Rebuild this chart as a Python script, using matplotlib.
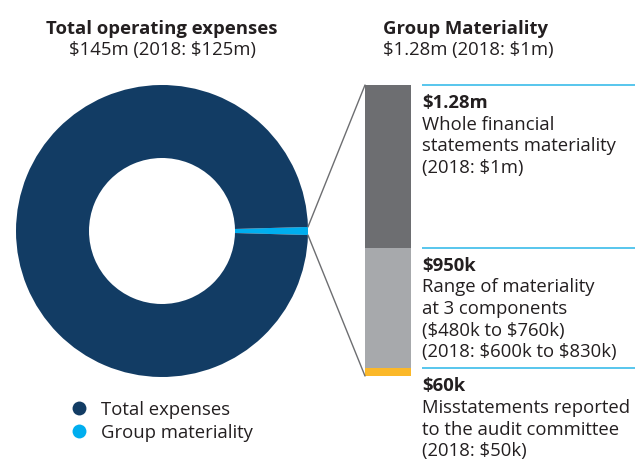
import numpy as np
import matplotlib
matplotlib.use('Agg')
import matplotlib.pyplot as plt
from matplotlib.patches import ConnectionPatch
from matplotlib.lines import Line2D
import matplotlib.transforms as mtransforms

plt.rcParams['font.family'] = ['Open Sans', 'DejaVu Sans']
plt.rcParams['text.parse_math'] = False

# ---- data ----
DONUT_LABELS = ['Group materiality', 'Total expenses']
DONUT_VALUES = [1.28, 145.0 - 1.28]        # $m
DONUT_COLORS = ['#00aeef', '#123c64']

BAR_VALUES = [60, 950, 1280]               # $k, stacked bottom -> top
BAR_COLORS = ['#fbb829', '#a7a9ac', '#6d6e71']
BAR_HEADS = ['$60k', '$950k', '$1.28m']
BAR_TEXT = [
    ['Misstatements reported', 'to the audit committee', '(2018: $50k)'],
    ['Range of materiality', 'at 3 components', '($480k to $760k)',
     '(2018: $600k to $830k)'],
    ['Whole financial', 'statements materiality', '(2018: $1m)'],
]

TXT = '#231f20'
RULE = '#29b6e8'
LINK = '#6d6e71'
FS = 13.3

W, H = 635, 464
fig = plt.figure(figsize=(W / 100, H / 100), dpi=100)


def fx(x): return x / W
def fy(y): return 1 - y / H


# ---- donut ----
ax_pie = fig.add_axes([fx(16), fy(378), fx(292), 292 / H])
theta = DONUT_VALUES[0] / sum(DONUT_VALUES) * 360
wedges, _ = ax_pie.pie(DONUT_VALUES, colors=DONUT_COLORS, startangle=-theta / 2,
                       counterclock=True, radius=1,
                       wedgeprops=dict(width=0.5, linewidth=0))
ax_pie.set_xlim(-1, 1); ax_pie.set_ylim(-1, 1)
ax_pie.set_aspect('equal')
ax_pie.axis('off')

fig.text(fx(162), fy(34), 'Total operating expenses', ha='center', va='baseline',
         fontsize=FS, fontweight='bold', color=TXT)
fig.text(fx(162), fy(55), '$145m (2018: $125m)', ha='center', va='baseline',
         fontsize=FS, color=TXT)

# ---- stacked materiality bar ----
ax_bar = fig.add_axes([fx(365), fy(377), fx(46), 291 / H])
bottoms = np.concatenate([[0], np.cumsum(BAR_VALUES)[:-1]])
ax_bar.bar(0, BAR_VALUES, bottom=bottoms, width=1, color=BAR_COLORS, linewidth=0)
ax_bar.set_xlim(-0.5, 0.5)
ax_bar.set_ylim(0, sum(BAR_VALUES))
ax_bar.axis('off')

fig.text(fx(383), fy(34), 'Group Materiality', ha='left', va='baseline',
         fontsize=FS, fontweight='bold', color=TXT)
fig.text(fx(383), fy(55), '$1.28m (2018: $1m)', ha='left', va='baseline',
         fontsize=FS, color=TXT)

# blue rules + text blocks at the top of each segment
ytrans = ax_bar.get_yaxis_transform()
tops = np.cumsum(BAR_VALUES)
x0 = 57 / 46
x1 = 270 / 46
for top, head, lines in zip(tops, BAR_HEADS, BAR_TEXT):
    ax_bar.plot([x0, x1], [top, top], color=RULE, lw=1.1, transform=ytrans,
                clip_on=False, solid_capstyle='butt')
    tr = mtransforms.offset_copy(ytrans, fig=fig, y=-22, units='dots')
    ax_bar.text(x0, top, head, transform=tr, ha='left', va='baseline',
                fontsize=FS, fontweight='bold', color=TXT)
    for k, line in enumerate(lines):
        tr = mtransforms.offset_copy(ytrans, fig=fig, y=-22 - 21.7 * (k + 1), units='dots')
        ax_bar.text(x0, top, line, transform=tr, ha='left', va='baseline',
                    fontsize=FS, color=TXT)

# ---- links from the materiality wedge to the bar ----
w = wedges[0]
for ang, yb in [(w.theta2, sum(BAR_VALUES)), (w.theta1, 0)]:
    pa = (w.r * np.cos(np.radians(ang)), w.r * np.sin(np.radians(ang)))
    con = ConnectionPatch(xyA=pa, coordsA=ax_pie.transData,
                          xyB=(-0.5, yb), coordsB=ax_bar.transData,
                          color=LINK, lw=1.0)
    fig.add_artist(con)

# ---- legend ----
handles = [Line2D([], [], marker='o', ls='', markersize=10,
                  markerfacecolor=c, markeredgewidth=0)
           for c in DONUT_COLORS[::-1]]
fig.legend(handles, DONUT_LABELS[::-1], loc='upper left',
           bbox_to_anchor=(fx(61), fy(392)), frameon=False, fontsize=FS,
           handlelength=1.0, handletextpad=0.65, labelspacing=0.28,
           borderpad=0, labelcolor=TXT)

fig.savefig('out.png', dpi=100, facecolor='white')
